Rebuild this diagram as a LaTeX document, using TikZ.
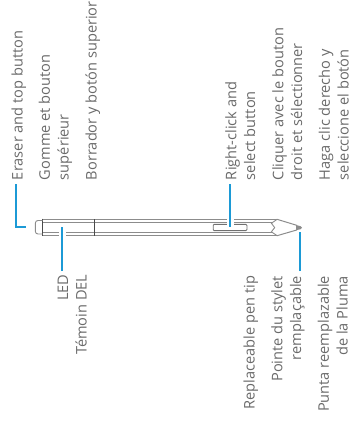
\documentclass[tikz,border=0pt]{standalone}
\usepackage{fontspec}
\setmainfont{Open Sans}
\usetikzlibrary{calc}
\definecolor{ink}{HTML}{6A6A6A}
\definecolor{penline}{HTML}{8C8C8C}
\definecolor{pendark}{HTML}{4A4A4A}
\definecolor{callout}{HTML}{1C9AD6}
\tikzset{
  font=\fontsize{14.6}{18.6}\selectfont,
  lblup/.style={rotate=90, text=ink, inner sep=0pt, outer sep=0pt, align=left, anchor=base west},
  lbldown/.style={rotate=90, text=ink, inner sep=0pt, outer sep=0pt, align=right, anchor=base east},
  leader/.style={draw=callout, line width=1.7pt},
  halo/.style={draw=white, line width=7pt},
  body/.style={draw=penline, line width=1.1pt},
  edgeline/.style={draw=pendark, line width=0.7pt},
}
\begin{document}
\begin{tikzpicture}[x=1pt, y=-1pt]
  \useasboundingbox (0,0) rectangle (352,424);

  % ---- pen --------------------------------------------------------------
  \draw[body] (42.7,219.2) -- (276.7,219.2);
  \draw[body] (42.7,222.2) -- (272.5,222.2);
  \draw[body] (42.7,232.8) -- (272.5,232.8);
  \draw[body] (42.7,235.8) -- (276.7,235.8);
  \draw[edgeline] (42.7,218.6) -- (42.7,236.4);
  \draw[edgeline] (94.3,219) -- (94.3,236);
  \draw[penline, line width=0.9pt, rounded corners=2.5pt] (42.7,220.5) -- (35.4,220.5) -- (35.4,234) -- (42.7,234);

  % clicker slot
  \draw[edgeline, draw=penline!80!black, rounded corners=1pt, line width=0.9pt]
    (213.2,224.4) rectangle (247,230.6);

  % cone and nib
  \draw[penline, line width=1pt] (276.7,219.2) -- (296.7,225.3) -- (296.7,230) -- (276.7,235.8);
  \draw[penline, line width=0.9pt] (276.7,219.6) -- (271.4,223.3) -- (274.7,227.6) -- (271.4,231.8) -- (276.7,235.4);
  \fill[penline] (296.7,225.2) -- (300.6,226.2) -- (302,227.7) -- (300.6,229.2) -- (296.7,230.1) -- cycle;

  % ---- anchors on the pen -----------------------------------------------
  \coordinate (eraserbend) at (15.7,226.7);
  \coordinate (erasertip) at (26.2,226.7);
  \coordinate (ledtip) at (62,227.3);
  \coordinate (clicktip) at (230,226.7);
  \coordinate (niptip) at (300,231.7);

  % ---- top labels -------------------------------------------------------
  \node[lblup] (eraserlbl) at (22.7,180) {Eraser and top button};
  \node[lblup] (gommelbl) at (68.5,180) {Gomme et bouton\\supérieur};
  \node[lblup] (borradorlbl) at (96.7,180) {Borrador y botón superior};
  \node[lblup] (clicklbl) at (255,180) {Right-click and\\select button};
  \node[lblup] (cliquerlbl) at (302,180) {Cliquer avec le bouton\\droit et sélectionner};
  \node[lblup] (hagalbl) at (348.5,180) {Haga clic derecho y\\seleccione el botón};

  % ---- bottom labels ----------------------------------------------------
  \node[lbldown] (ledlbl) at (68,274.5) {LED};
  \node[lbldown] (temoinlbl) at (86.7,274.5) {Témoin DEL};
  \node[lbldown] (replacelbl) at (254.5,276) {Replaceable pen tip};
  \node[lbldown] (pointelbl) at (301,276) {Pointe du stylet\\remplaçable};
  \node[lbldown] (puntalbl) at (347.5,276) {Punta reemplazable\\de la Pluma};

  % ---- leaders ----------------------------------------------------------
  \coordinate (eraserfoot) at ([yshift=-4pt]eraserlbl.west -| eraserbend);
  \coordinate (clickfoot) at ([yshift=-4pt]clicklbl.west -| clicktip);
  \coordinate (ledfoot) at ([yshift=4pt]ledlbl.east -| ledtip);
  \coordinate (nipfoot) at ([yshift=5pt]replacelbl.east -| niptip);
  \draw[leader] (eraserfoot) -- (eraserbend) -- (erasertip);
  \draw[halo] (ledtip) -- ++(0,12);
  \draw[leader] (ledfoot) -- (ledtip);
  \draw[halo] (clicktip) -- ++(0,-12);
  \draw[leader] (clickfoot) -- (clicktip);
  \draw[leader] (nipfoot) -- (niptip);
\end{tikzpicture}
\end{document}
